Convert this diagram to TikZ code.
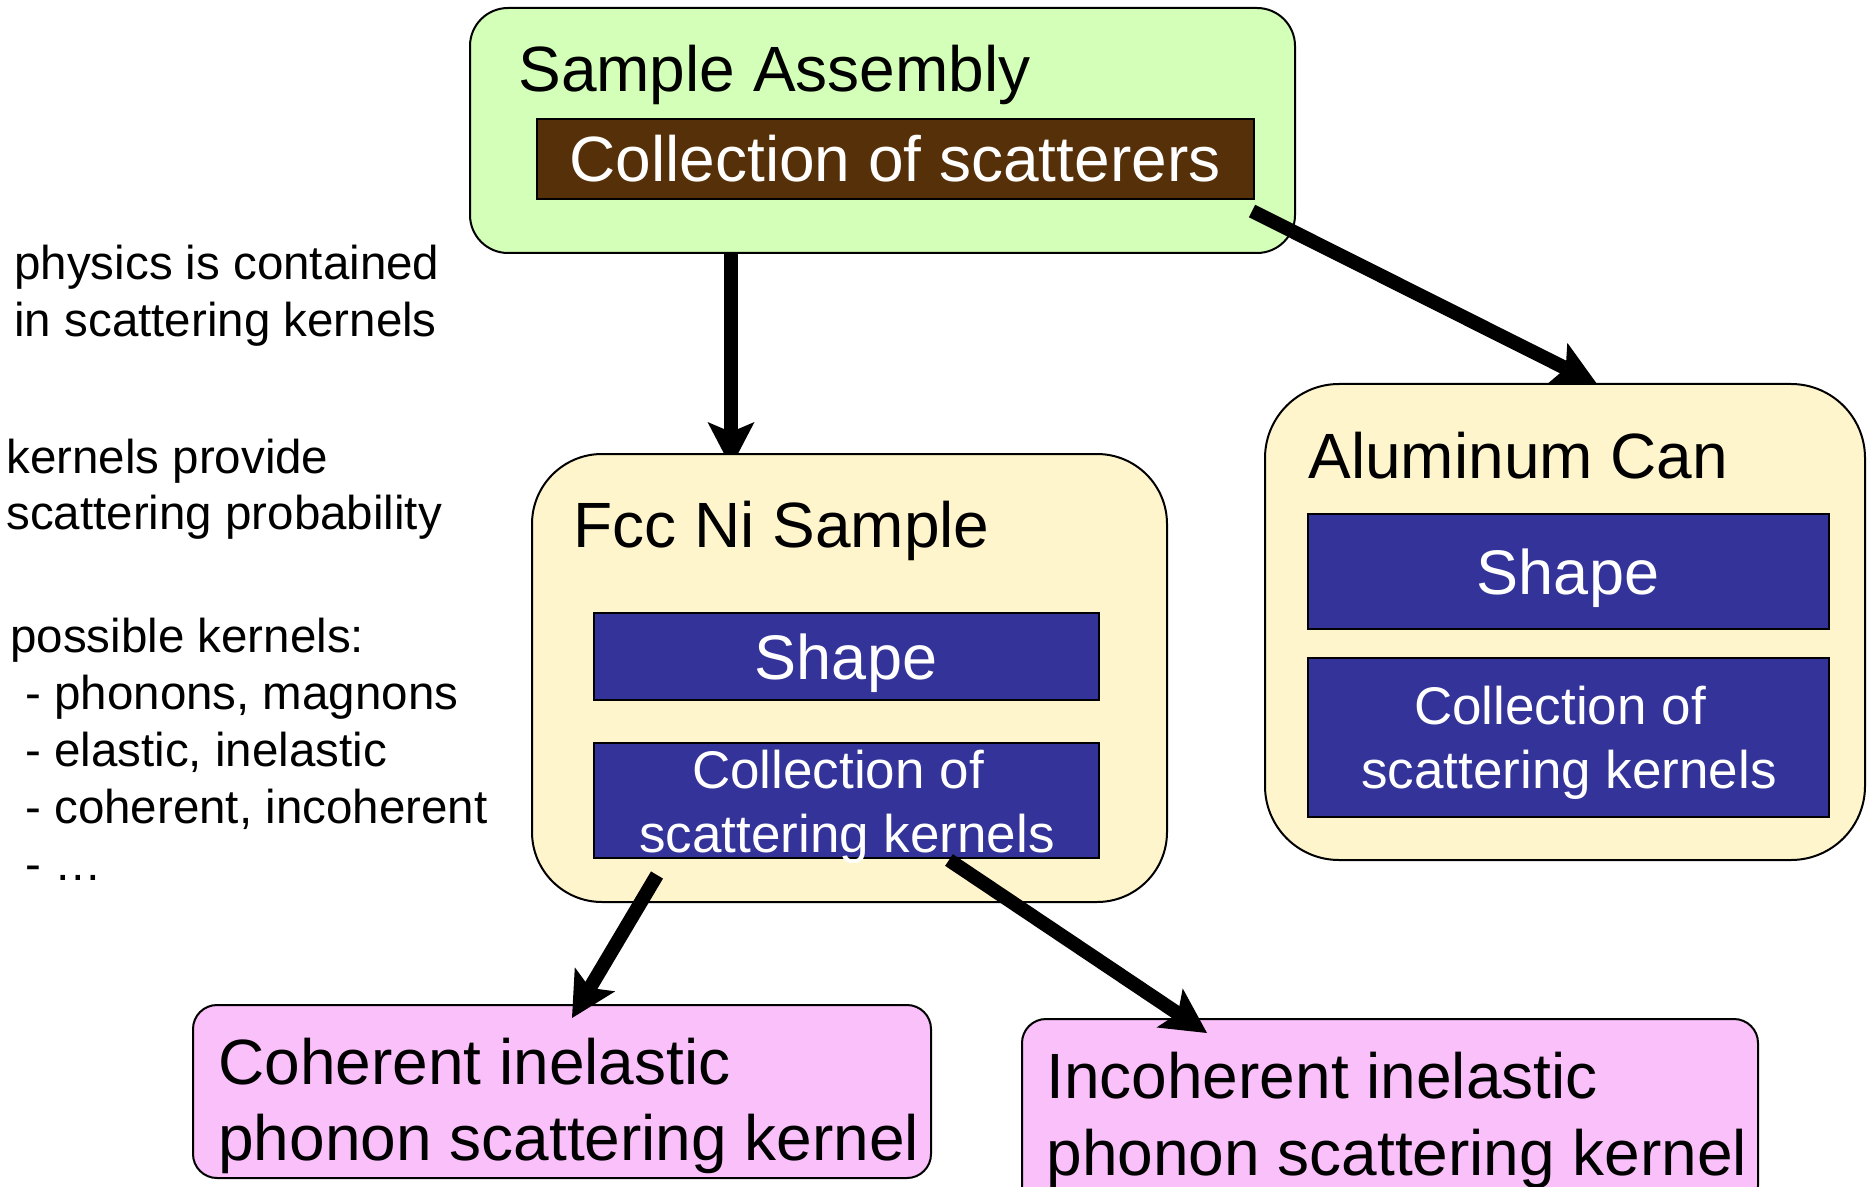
\documentclass[tikz,border=0pt]{standalone}
\usepackage{fontspec}
\setmainfont{Liberation Sans}
\usetikzlibrary{arrows.meta,fit}

\pgfdeclarelayer{back}
\pgfdeclarelayer{between}
\pgfsetlayers{back,between,main}

\definecolor{boxgreen}{RGB}{212,255,184}
\definecolor{boxbrown}{RGB}{86,48,8}
\definecolor{boxblue}{RGB}{51,51,153}
\definecolor{boxcream}{RGB}{255,245,204}
\definecolor{boxpink}{RGB}{249,192,249}

\tikzset{
  panel/.style={draw=black, line width=1pt, inner sep=0pt, rounded corners=#1},
  inner/.style={draw=black, line width=1pt, inner sep=0pt},
  leftline/.style={inner sep=0pt, anchor=base west},
  midline/.style={inner sep=0pt, anchor=base},
  bigtext/.style={font=\fontsize{32pt}{38pt}\selectfont},
  shapetext/.style={font=\fontsize{31.5pt}{38pt}\selectfont, text=white},
  kerntext/.style={font=\fontsize{26.5pt}{32pt}\selectfont, text=white},
  notetext/.style={font=\fontsize{23.75pt}{28.5pt}\selectfont},
  link/.style={line width=7pt,
    -{Stealth[length=22.5pt,width=23.5pt,inset=5pt,line width=0pt]}},
}

\begin{document}
\begin{tikzpicture}[x=0.5pt, y=-0.5pt]
\useasboundingbox (0,0) rectangle (1867,1187);

% top container
\begin{pgfonlayer}{back}
  \node[panel=19pt, fill=boxgreen, fit={(470,8) (1295,253)}] (sample) {};
  \node[inner, fill=boxbrown, fit={(537,119) (1254,199)}] (scatterers) {};
  \node[leftline, bigtext] (sampletitle) at (518,92) {Sample Assembly};
  \node[midline, bigtext, text=white] (scattext) at (895,182) {Collection of scatterers};
\end{pgfonlayer}

% links leaving the top container
\coordinate (fcctip) at (731,467);
\coordinate (canstart) at (1252,211);
\coordinate (cantip) at (1597,384);
\begin{pgfonlayer}{between}
  \draw[link] (sample.south -| fcctip) -- (fcctip);
  \draw[link] (canstart) -- (cantip);
\end{pgfonlayer}

% Fcc Ni sample
\node[panel=35pt, fill=boxcream, fit={(532,454) (1167,902)}] (fcc) {};
\node[leftline, bigtext] (fcctitle) at (573,547) {Fcc Ni Sample};
\node[inner, fill=boxblue, fit={(594,613) (1099,700)}] (fccshape) {};
\node[midline, shapetext] (fccshapetext) at (846,679) {Shape};
\node[inner, fill=boxblue, fit={(594,743) (1099,858)}] (fcckern) {};
\node[midline, kerntext] (fcckernA) at (838,788) {Collection of};
\node[midline, kerntext] (fcckernB) at (847,852) {scattering kernels};

% Aluminum can
\node[panel=37pt, fill=boxcream, fit={(1265,384) (1865,860)}] (can) {};
\node[leftline, bigtext] (cantitle) at (1308,478) {Aluminum Can};
\node[inner, fill=boxblue, fit={(1308,514) (1829,629)}] (canshape) {};
\node[midline, shapetext] (canshapetext) at (1568,594) {Shape};
\node[inner, fill=boxblue, fit={(1308,658) (1829,817)}] (cankern) {};
\node[midline, kerntext] (cankernA) at (1560,724) {Collection of};
\node[midline, kerntext] (cankernB) at (1569,788) {scattering kernels};

% kernels
\node[panel=12pt, fill=boxpink, fit={(193,1005) (931,1178)}] (coh) {};
\node[leftline, bigtext] (cohA) at (218,1084) {Coherent inelastic};
\node[leftline, bigtext] (cohB) at (218,1160) {phonon scattering kernel};
\node[panel=12pt, fill=boxpink, fit={(1022,1019) (1758,1210)}] (incoh) {};
\node[leftline, bigtext] (incohA) at (1046,1098) {Incoherent inelastic};
\node[leftline, bigtext] (incohB) at (1046,1175) {phonon scattering kernel};

% links from the Fcc kernel collection
\coordinate (cohstart) at (657,875);
\coordinate (cohtip) at (572,1018);
\coordinate (incohstart) at (949,860);
\coordinate (incohtip) at (1207,1033);
\draw[link] (cohstart) -- (cohtip);
\draw[link] (incohstart) -- (incohtip);

% notes on the left
\node[leftline, notetext] (noteA) at (14,280) {physics is contained};
\node[leftline, notetext] (noteB) at (14,337) {in scattering kernels};
\node[leftline, notetext] (noteC) at (6,473) {kernels provide};
\node[leftline, notetext] (noteD) at (6,529) {scattering probability};
\node[leftline, notetext] (noteE) at (10,652) {possible kernels:};
\node[leftline, notetext] (noteF) at (25,709) {- phonons, magnons};
\node[leftline, notetext] (noteG) at (25,766) {- elastic, inelastic};
\node[leftline, notetext] (noteH) at (25,823) {- coherent, incoherent};
\node[leftline, notetext] (noteI) at (25,880) {- …};
\end{tikzpicture}
\end{document}
